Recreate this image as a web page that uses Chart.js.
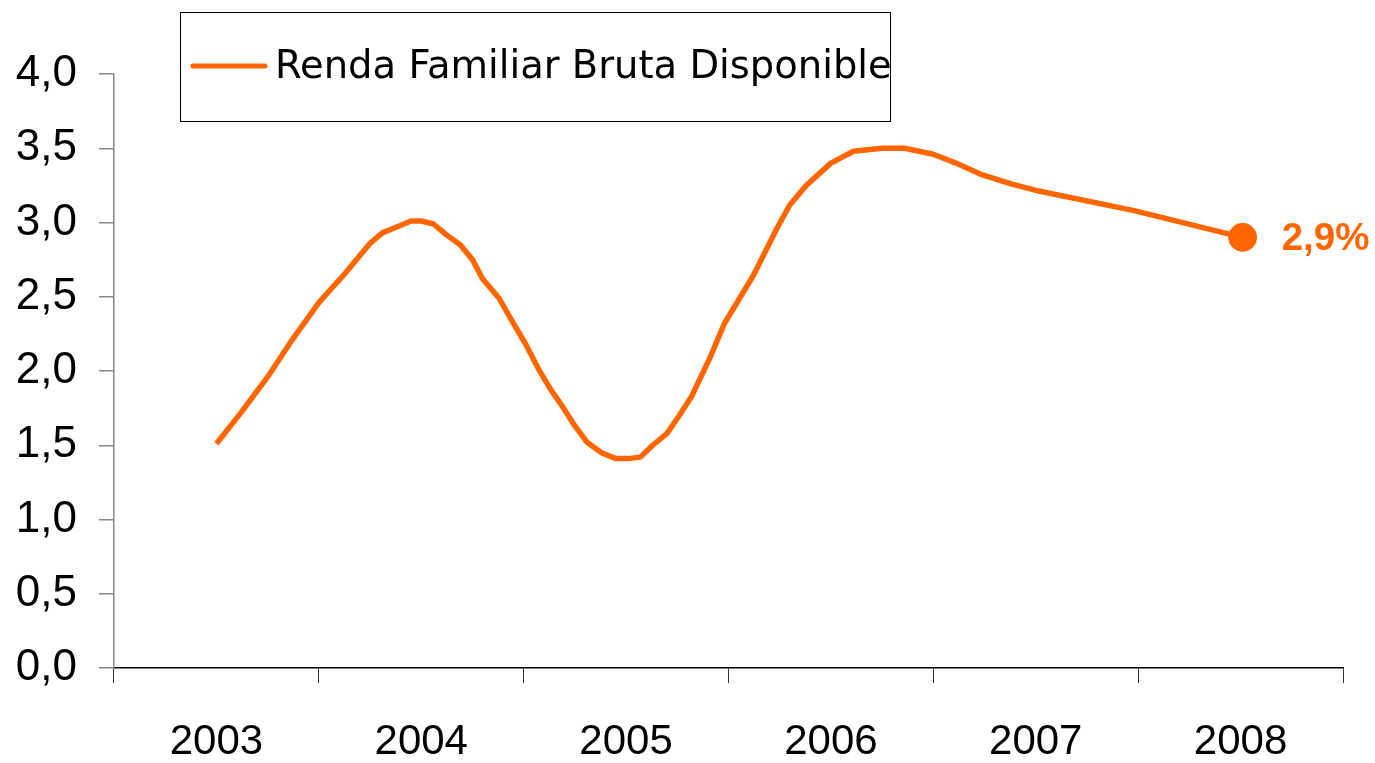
<!DOCTYPE html>
<html>
<head>
<meta charset="utf-8">
<script src="https://cdn.jsdelivr.net/npm/chart.js@4"></script>
<style>
  html, body { margin: 0; padding: 0; background: #fff; }
  #wrap { width: 1375px; height: 763px; }
</style>
</head>
<body>
<div id="wrap"><canvas id="chart" width="1375" height="763"></canvas></div>
<script>
// year categories on the x axis
const years = ['2003', '2004', '2005', '2006', '2007', '2008'];

// position of each vertex, in years from the start of 2003
const xPos = [
  0.50, 0.62, 0.75, 0.87, 1.00, 1.13, 1.25, 1.31, 1.38, 1.45,
  1.50, 1.56, 1.62, 1.69, 1.75, 1.80, 1.88, 1.95, 2.01, 2.07,
  2.13, 2.19, 2.25, 2.31, 2.38, 2.45, 2.51, 2.57, 2.63, 2.70,
  2.76, 2.82, 2.91, 2.98, 3.12, 3.24, 3.30, 3.38, 3.50, 3.61,
  3.75, 3.86, 4.00, 4.11, 4.24, 4.38, 4.52, 4.98, 5.51
];

// Renda Familiar Bruta Disponible (%)
const values = [
  1.51, 1.72, 1.96, 2.21, 2.46, 2.66, 2.86, 2.93, 2.97, 3.01,
  3.01, 2.99, 2.92, 2.85, 2.75, 2.62, 2.49, 2.32, 2.18, 2.02,
  1.88, 1.76, 1.63, 1.52, 1.45, 1.41, 1.41, 1.42, 1.50, 1.58,
  1.70, 1.83, 2.09, 2.32, 2.64, 2.97, 3.12, 3.25, 3.40, 3.48,
  3.50, 3.50, 3.46, 3.40, 3.32, 3.26, 3.21, 3.08, 2.90
];

const seriesName = 'Renda Familiar Bruta Disponible';
const orange = '#ff6600';
const comma = v => Number(v).toFixed(1).replace('.', ',');

// legend box in the top-left corner
const legendBox = {
  id: 'legendBox',
  afterDraw(chart) {
    const ctx = chart.ctx;
    ctx.save();
    ctx.strokeStyle = '#000';
    ctx.lineWidth = 1;
    ctx.strokeRect(180.5, 12.5, 710, 109);
    ctx.strokeStyle = orange;
    ctx.lineWidth = 5;
    ctx.lineCap = 'round';
    ctx.beginPath();
    ctx.moveTo(193, 66);
    ctx.lineTo(265, 66);
    ctx.stroke();
    ctx.fillStyle = '#000';
    ctx.font = '38.5px "DejaVu Sans"';
    ctx.textBaseline = 'alphabetic';
    ctx.fillText(chart.data.datasets[0].label, 275, 78);
    ctx.restore();
  }
};

// value label next to the last point
const lastLabel = {
  id: 'lastLabel',
  afterDatasetsDraw(chart) {
    const meta = chart.getDatasetMeta(0);
    const pt = meta.data[meta.data.length - 1];
    const ctx = chart.ctx;
    ctx.save();
    ctx.fillStyle = orange;
    ctx.font = 'bold 38.5px "Liberation Sans"';
    ctx.textBaseline = 'middle';
    ctx.fillText(comma(values[values.length - 1]) + '%', pt.x + 39, pt.y + 2);
    ctx.restore();
  }
};

new Chart(document.getElementById('chart'), {
  type: 'line',
  data: {
    labels: years,
    datasets: [{
      label: seriesName,
      data: xPos.map((x, i) => ({ x: x, y: values[i] })),
      xAxisID: 'xl',
      borderColor: orange,
      backgroundColor: orange,
      borderWidth: 5.5,
      borderJoinStyle: 'round',
      tension: 0,
      pointRadius: values.map((v, i) => i === values.length - 1 ? 14 : 0),
      pointBorderWidth: 1,
      pointHoverRadius: 0,
      clip: false
    }]
  },
  options: {
    responsive: false,
    animation: false,
    layout: { padding: { top: 74, right: 32, bottom: 0, left: 0 } },
    plugins: {
      legend: { display: false },
      tooltip: { enabled: false }
    },
    scales: {
      xl: {
        type: 'linear',
        display: false,
        min: 0,
        max: 6
      },
      x: {
        type: 'category',
        offset: true,
        grid: { offset: true, drawOnChartArea: false, tickLength: 15, color: '#333', lineWidth: 1 },
        border: { color: '#000', width: 1.5 },
        ticks: {
          color: '#000',
          padding: 34,
          maxRotation: 0,
          font: { family: 'Liberation Sans', size: 42 }
        },
        afterFit(scale) { scale.height = 95; }
      },
      y: {
        min: 0,
        max: 4,
        grid: { drawOnChartArea: false, tickLength: 15, color: '#888', lineWidth: 1.5 },
        border: { color: '#888', width: 1.5 },
        ticks: {
          stepSize: 0.5,
          color: '#000',
          padding: 22,
          font: { family: 'Liberation Sans', size: 44 },
          callback: v => comma(v)
        },
        afterFit(scale) { scale.width = 114; }
      }
    }
  },
  plugins: [legendBox, lastLabel]
});
</script>
</body>
</html>
